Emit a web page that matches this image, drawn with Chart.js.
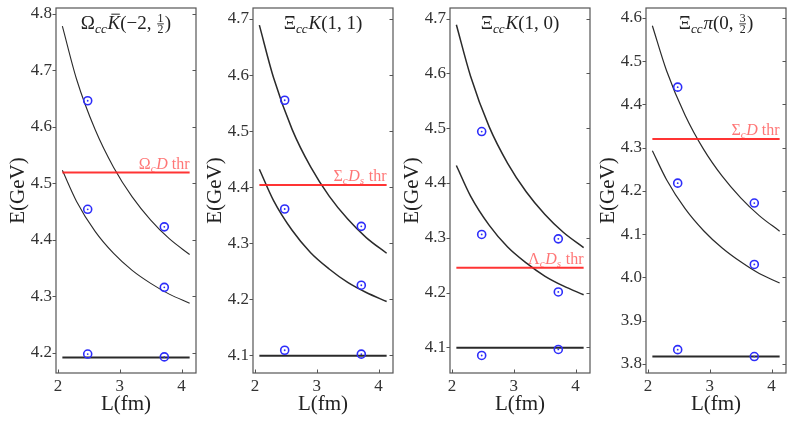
<!DOCTYPE html>
<html><head><meta charset="utf-8">
<script src="https://cdn.jsdelivr.net/npm/chart.js@4.4.0/dist/chart.umd.min.js"></script>
<style>
html,body{margin:0;padding:0;background:#fff;}
#wrap{position:relative;width:793px;height:424px;overflow:hidden;background:#fff;}
canvas{position:absolute;top:0;}
</style></head><body>
<div id="wrap">
<canvas id="c0" width="197" height="424" style="left:0px;width:197px;height:424px"></canvas>
<canvas id="c1" width="197" height="424" style="left:197px;width:197px;height:424px"></canvas>
<canvas id="c2" width="197" height="424" style="left:394px;width:197px;height:424px"></canvas>
<canvas id="c3" width="197" height="424" style="left:590px;width:197px;height:424px"></canvas>
</div>
<script>
// ---------- data ----------
const L_CURVE = [2.07, 2.3, 2.6, 2.9, 3.2, 3.5, 3.8, 4.13];   // L (fm) samples of the free-energy curves
const L_LINE  = [2.07, 4.13];                                   // extent of horizontal lines
const L_LAT   = [2.48, 3.72];                                   // lattice volumes
const X_TICKS = [2, 3, 4];

// Panel 1: Omega_cc Kbar(-2,1/2)
const omK_E0 = [4.192, 4.192];
const omK_E1 = [4.523, 4.468, 4.415, 4.376, 4.346, 4.323, 4.304, 4.288];
const omK_E2 = [4.778, 4.684, 4.595, 4.528, 4.476, 4.435, 4.402, 4.374];
const omK_thr = [4.519, 4.519];
const omK_latA = [4.646, 4.454, 4.198];
const omK_latB = [4.423, 4.316, 4.193];
const omK_yTicks = [4.2, 4.3, 4.4, 4.5, 4.6, 4.7, 4.8];

// Panel 2: Xi_cc K(1,1)
const xiK11_E0 = [4.099, 4.099];
const xiK11_E1 = [4.432, 4.376, 4.323, 4.283, 4.254, 4.230, 4.212, 4.196];
const xiK11_E2 = [4.689, 4.595, 4.503, 4.436, 4.384, 4.343, 4.310, 4.282];
const xiK11_thr = [4.404, 4.404];
const xiK11_latA = [4.555, 4.361, 4.109];
const xiK11_latB = [4.330, 4.225, 4.102];
const xiK11_yTicks = [4.1, 4.2, 4.3, 4.4, 4.5, 4.6, 4.7];

// Panel 3: Xi_cc K(1,0)
const xiK10_E0 = [4.099, 4.099];
const xiK10_E1 = [4.432, 4.376, 4.323, 4.283, 4.254, 4.230, 4.212, 4.196];
const xiK10_E2 = [4.689, 4.595, 4.503, 4.436, 4.384, 4.343, 4.310, 4.282];
const xiK10_thr = [4.245, 4.245];
const xiK10_latA = [4.494, 4.306, 4.085];
const xiK10_latB = [4.298, 4.201, 4.096];
const xiK10_yTicks = [4.1, 4.2, 4.3, 4.4, 4.5, 4.6, 4.7];

// Panel 4: Xi_cc pi(0,3/2)
const xiPi_E0 = [3.817, 3.817];
const xiPi_E1 = [4.293, 4.226, 4.159, 4.108, 4.068, 4.036, 4.009, 3.987];
const xiPi_E2 = [4.582, 4.478, 4.375, 4.296, 4.234, 4.184, 4.143, 4.107];
const xiPi_thr = [4.320, 4.320];
const xiPi_latA = [4.440, 4.218, 3.833];
const xiPi_latB = [4.172, 4.030, 3.817];
const xiPi_yTicks = [3.8, 3.9, 4.0, 4.1, 4.2, 4.3, 4.4, 4.5, 4.6];

// ---------- drawing helpers ----------
const FAM = 'Liberation Serif, DejaVu Serif, serif';
Chart.defaults.font.family = FAM;
function fontFor(p, size){ const s = p.sub ? size*0.7 : size; return (p.it ? 'italic ' : '') + s.toFixed(1) + 'px ' + FAM; }
function partWidth(ctx, p, size){
  if (p.frac){ ctx.font = (size*0.62).toFixed(1)+'px '+FAM;
    return Math.max(ctx.measureText(p.frac[0]).width, ctx.measureText(p.frac[1]).width) + size*0.14; }
  ctx.font = fontFor(p, size); return ctx.measureText(p.t).width + (p.sub ? size*0.04 : 0);
}
function drawRich(ctx, parts, x, y, size, align, color){
  const ws = parts.map(p => partWidth(ctx, p, size));
  const total = ws.reduce((a,b)=>a+b, 0);
  let cx = align === 'center' ? x - total/2 : (align === 'right' ? x - total : x);
  ctx.fillStyle = color; ctx.strokeStyle = color; ctx.textBaseline = 'alphabetic'; ctx.textAlign = 'left';
  parts.forEach((p, i) => {
    if (p.frac){
      const fs = size*0.62; ctx.font = fs.toFixed(1)+'px '+FAM;
      const axis = y - size*0.27, w = ws[i];
      const nw = ctx.measureText(p.frac[0]).width, dw = ctx.measureText(p.frac[1]).width;
      ctx.fillText(p.frac[0], cx + (w-nw)/2, axis - size*0.08);
      ctx.fillText(p.frac[1], cx + (w-dw)/2, axis + size*0.08 + fs*0.66);
      ctx.lineWidth = 0.9; ctx.beginPath(); ctx.moveTo(cx+size*0.05, axis); ctx.lineTo(cx+w-size*0.05, axis); ctx.stroke();
    } else {
      ctx.font = fontFor(p, size);
      ctx.fillText(p.t, cx, y + (p.sub ? size*0.2 : 0));
      if (p.bar){ ctx.lineWidth = 1; ctx.beginPath(); ctx.moveTo(cx+size*0.2, y-size*0.78); ctx.lineTo(cx+ws[i]-size*0.02, y-size*0.78); ctx.stroke(); }
    }
    cx += ws[i];
  });
}

const framePlugin = {
  id: 'frame',
  afterDatasetsDraw(chart){
    const {ctx, chartArea: a, scales: {x, y}} = chart;
    const o = chart.options.plugins.frame;
    ctx.save();
    ctx.strokeStyle = '#555'; ctx.lineWidth = 1.2;
    ctx.strokeRect(a.left, a.top, a.right - a.left, a.bottom - a.top);
    ctx.lineWidth = 1; ctx.beginPath();
    for (const t of y.ticks){ const py = Math.round(y.getPixelForValue(t.value)) + 0.5;
      ctx.moveTo(a.left - 3.5, py); ctx.lineTo(a.left, py);
      ctx.moveTo(a.right, py); ctx.lineTo(a.right - 3.5, py); }
    for (const t of x.ticks){ const px = Math.round(x.getPixelForValue(t.value)) + 0.5;
      ctx.moveTo(px, a.bottom); ctx.lineTo(px, a.bottom - 3.5); }
    ctx.stroke();
    drawRich(ctx, o.title, (a.left + a.right)/2, a.top + 21, 19, 'center', '#222');
    drawRich(ctx, o.thrLabel, x.getPixelForValue(L_LINE[1]), y.getPixelForValue(o.thr) - 4, 16, 'right', 'rgba(255,60,60,0.7)');
    ctx.restore();
  }
};

function pts(xs, ys){ return xs.map((v, i) => ({x: v, y: ys[i]})); }
function latPts(A, B){ return A.map(v => ({x: L_LAT[0], y: v})).concat(B.map(v => ({x: L_LAT[1], y: v}))); }
function zeroPad(s){ s.paddingLeft = 0; s.paddingRight = 0; s.paddingTop = 0; s.paddingBottom = 0; }

const panels = [
  {id:'c0', E0:omK_E0, E1:omK_E1, E2:omK_E2, thr:omK_thr, A:omK_latA, B:omK_latB, yT:omK_yTicks, yMin:4.1645, yMax:4.810, lw:1.1,
   title:[{t:'Ω'},{t:'cc',it:1,sub:1},{t:'K',it:1,bar:1},{t:'(−2, '},{frac:['1','2']},{t:')'}],
   thrLabel:[{t:'Ω'},{t:'c',it:1,sub:1},{t:'D',it:1},{t:' thr'}]},
  {id:'c1', E0:xiK11_E0, E1:xiK11_E1, E2:xiK11_E2, thr:xiK11_thr, A:xiK11_latA, B:xiK11_latB, yT:xiK11_yTicks, yMin:4.0684, yMax:4.7196, lw:1.5,
   title:[{t:'Ξ'},{t:'cc',it:1,sub:1},{t:'K',it:1},{t:'(1, 1)'}],
   thrLabel:[{t:'Σ'},{t:'c',it:1,sub:1},{t:'D',it:1},{t:'s',it:1,sub:1},{t:' thr'}]},
  {id:'c2', E0:xiK10_E0, E1:xiK10_E1, E2:xiK10_E2, thr:xiK10_thr, A:xiK10_latA, B:xiK10_latB, yT:xiK10_yTicks, yMin:4.053, yMax:4.7196, lw:1.5,
   title:[{t:'Ξ'},{t:'cc',it:1,sub:1},{t:'K',it:1},{t:'(1, 0)'}],
   thrLabel:[{t:'Λ'},{t:'c',it:1,sub:1},{t:'D',it:1},{t:'s',it:1,sub:1},{t:' thr'}]},
  {id:'c3', E0:xiPi_E0, E1:xiPi_E1, E2:xiPi_E2, thr:xiPi_thr, A:xiPi_latA, B:xiPi_latB, yT:xiPi_yTicks, yMin:3.779, yMax:4.623, lw:1.2,
   title:[{t:'Ξ'},{t:'cc',it:1,sub:1},{t:'π',it:1},{t:'(0, '},{frac:['3','2']},{t:')'}],
   thrLabel:[{t:'Σ'},{t:'c',it:1,sub:1},{t:'D',it:1},{t:' thr'}]}
];

const BLUE = 'rgb(45,45,250)';
panels.forEach(P => {
  new Chart(document.getElementById(P.id), {
    type: 'line',
    data: { datasets: [
      {data: latPts(P.A, P.B), showLine:false, pointRadius:4, pointBorderWidth:1.6, pointBorderColor:BLUE, pointBackgroundColor:'rgba(0,0,0,0)', borderColor:BLUE},
      {data: latPts(P.A, P.B), showLine:false, pointRadius:0.9, pointBorderWidth:0, pointBackgroundColor:BLUE, borderColor:BLUE},
      {data: pts(L_LINE, P.thr), borderColor:'rgba(255,30,30,0.9)', borderWidth:2, pointRadius:0},
      {data: pts(L_LINE, P.E0), borderColor:'#2a2a2a', borderWidth:2, pointRadius:0},
      {data: pts(L_CURVE, P.E1), borderColor:'#2a2a2a', borderWidth:P.lw, pointRadius:0, cubicInterpolationMode:'monotone'},
      {data: pts(L_CURVE, P.E2), borderColor:'#2a2a2a', borderWidth:P.lw, pointRadius:0, cubicInterpolationMode:'monotone'}
    ]},
    options: {
      responsive:false, animation:false, devicePixelRatio:1, events:[],
      layout:{padding:{top:8, right:1, bottom:0, left:0}, autoPadding:false},
      plugins:{legend:{display:false}, tooltip:{enabled:false},
        frame:{title:P.title, thrLabel:P.thrLabel, thr:P.thr[0]}},
      scales:{
        x:{type:'linear', min:1.967, max:4.233,
          afterBuildTicks: s => { s.ticks = X_TICKS.map(v => ({value:v})); },
          afterFit: s => { s.height = 51; zeroPad(s); },
          grid:{display:false, drawTicks:false}, border:{display:false},
          ticks:{font:{family:FAM, size:17}, color:'#333', padding:3, maxRotation:0, callback: v => String(v)},
          title:{display:true, text:'L(fm)', font:{family:FAM, size:21}, color:'#222', padding:{top:0, bottom:7}}},
        y:{type:'linear', min:P.yMin, max:P.yMax,
          afterBuildTicks: s => { s.ticks = P.yT.map(v => ({value:v})); },
          afterFit: s => { s.width = 56; zeroPad(s); },
          grid:{display:false, drawTicks:false}, border:{display:false},
          ticks:{font:{family:FAM, size:17}, color:'#333', padding:4, callback: v => Number(v).toFixed(1)},
          title:{display:true, text:'E(GeV)', font:{family:FAM, size:21}, color:'#222', padding:{top:6, bottom:0}}}
      }
    },
    plugins:[framePlugin]
  });
});
</script>
</body></html>
